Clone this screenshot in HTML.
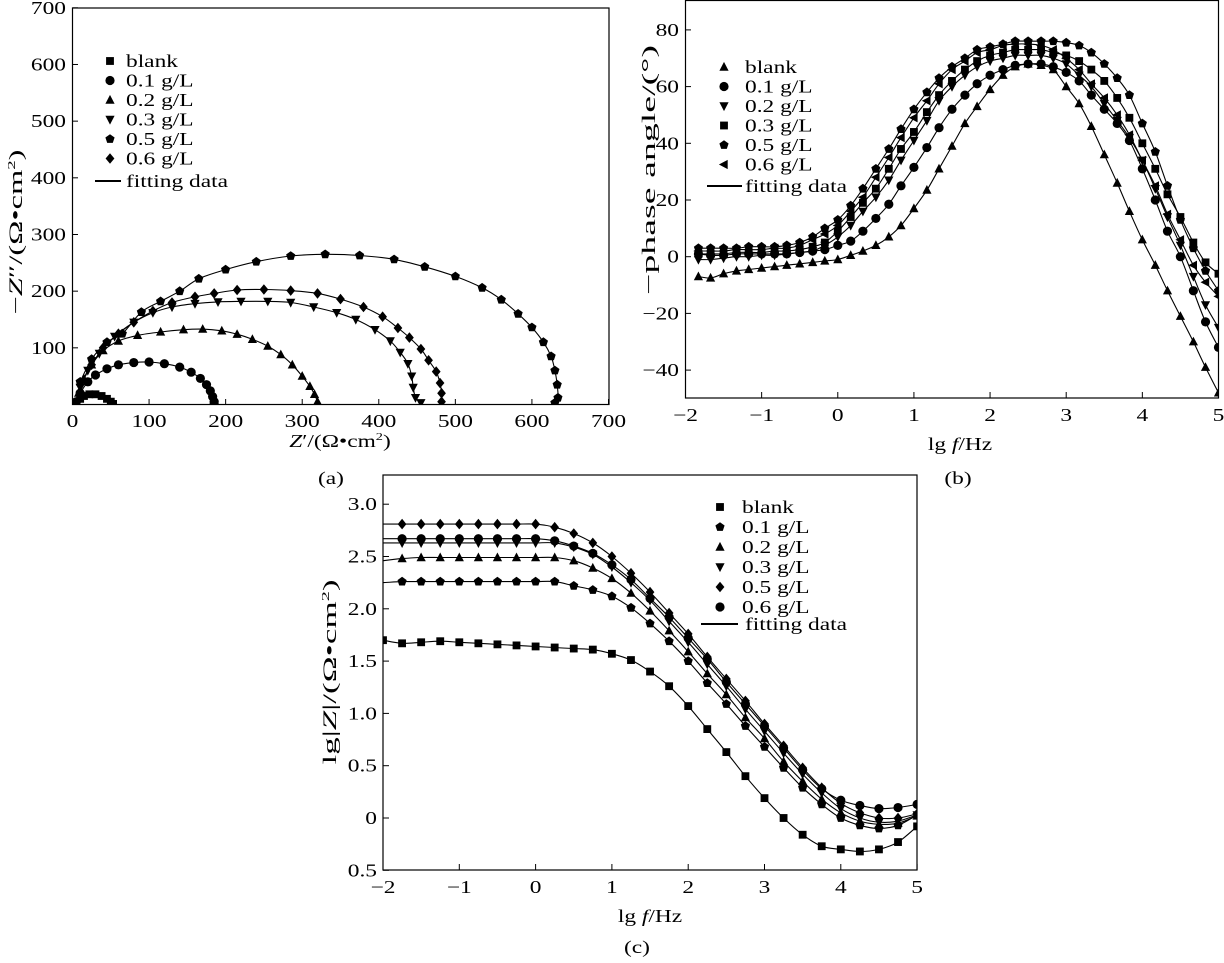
<!DOCTYPE html>
<html><head><meta charset="utf-8"><style>
html,body{margin:0;padding:0;background:#fff}
svg{display:block}
text{font-family:"Liberation Serif",serif;fill:#000}
</style></head><body>
<svg id="fig" width="1224" height="963" viewBox="0 0 1224 963" xmlns="http://www.w3.org/2000/svg"></svg>
<script>
// ---------- Panel (a) Nyquist data ----------
const nyqLabels = ["blank","0.1 g/L","0.2 g/L","0.3 g/L","0.5 g/L","0.6 g/L"];
const nyqBlank = [[5,3],[10,10],[15,15],[22,18],[30,18],[38,15],[45,10],[50,5],[53,1]];
const nyq01 = [[5,5],[10,20],[20,40],[30,52],[45,63],[60,70],[80,74],[100,75],[120,72],[140,66],[155,57],[167,46],[175,35],[180,24],[183,14],[185,5],[185,1]];
const nyq02 = [[8,20],[15,45],[25,70],[40,95],[60,112],[85,122],[115,128],[145,132],[170,133],[195,130],[215,124],[235,115],[255,103],[272,88],[287,70],[300,50],[310,32],[316,18],[320,5]];
const nyq03 = [[10,30],[20,60],[35,90],[55,120],[80,145],[105,162],[130,172],[160,178],[190,181],[220,182],[255,182],[285,180],[315,172],[345,162],[370,150],[395,132],[415,112],[428,92],[438,72],[443,50],[445,30],[448,12],[455,3]];
const nyq05 = [[10,40],[25,80],[45,110],[65,125],[90,163],[115,182],[140,200],[165,222],[200,238],[240,252],[285,262],[330,265],[375,263],[420,256],[460,243],[500,226],[535,206],[560,185],[582,160],[600,136],[615,110],[625,85],[630,60],[633,35],[634,12],[630,3]];
const nyq06 = [[10,35],[25,70],[40,100],[60,125],[80,145],[105,165],[130,180],[160,190],[185,196],[215,202],[250,203],[285,201],[320,196],[350,186],[380,172],[405,155],[425,135],[440,118],[455,98],[465,78],[475,58],[480,38],[482,20],[482,5]];
const nyqTicks = [0,100,200,300,400,500,600,700];

// ---------- Panel (b) phase data ----------
const phaseX = [-1.83,-1.67,-1.5,-1.33,-1.17,-1,-0.83,-0.67,-0.5,-0.33,-0.17,0,0.17,0.33,0.5,0.67,0.83,1,1.17,1.33,1.5,1.67,1.83,2,2.17,2.33,2.5,2.67,2.83,3,3.17,3.33,3.5,3.67,3.83,4,4.17,4.33,4.5,4.67,4.83,5];
const phaseLabels = ["blank","0.1 g/L","0.2 g/L","0.3 g/L","0.5 g/L","0.6 g/L"];
const phBlank = [-7,-7.5,-6,-5,-4.5,-4,-3.5,-3,-2.5,-2,-1.5,-1,0.5,2,4,7,11,17,23.5,31,39,47,53,59,64,67,68,67.5,66,60,54,46,36,26,16,6,-3,-12,-21,-30,-39,-48];
const ph01 = [1,0.5,0.5,1,1,1,1,1,1.5,2,2.5,4,5.5,9,13.5,18.5,25,31.5,38.5,45.5,52,57,61,64,66,67.5,68,68,67,65,62,57,52,47,41,31,20,9,0,-12,-23,-32];
const ph02 = [-1,-1,-0.5,0,0,0.5,0.5,1,1.5,2,4,7,11,16,21,27,34,41,48,55,60,64,67,69,70,71,71,71,70,68,64,60,54,48,42,34,24,14,4,-7,-17,-25];
const ph03 = [1,1,1,1.5,1.5,1.5,2,2,2.5,3.5,5,9,14,19,24,31,38,44,51,57,62,66,69,71,72,73,73,73,72,71,69,66,62,56,49,40,31,22,14,5,-2,-6];
const ph05 = [3,3,3,3,3.5,3.5,3.5,4,5,7,10,13,18,24,31,38,45,52,58,63,67,70,73,74,75,76,76,76,76,75.5,74.5,72,68,63,57,47,37,25,13,3,-5,-12];
const ph06 = [2,2,2,2.5,2.5,2.5,3,3,4,6,8,11,16,21,28,35,42,49,55,61,66,69,72,73,74.5,75,75,74.5,73,70,66,61,56,50,43,34,25,15,6,-3,-9,-14];
const freqTicks = [-2,-1,0,1,2,3,4,5];
const phaseTicks = [80,60,40,20,0,-20,-40];

// ---------- Panel (c) |Z| data ----------
const bodeX = [-2,-1.75,-1.5,-1.25,-1,-0.75,-0.5,-0.25,0,0.25,0.5,0.75,1,1.25,1.5,1.75,2,2.25,2.5,2.75,3,3.25,3.5,3.75,4,4.25,4.5,4.75,5];
const bodeLabels = ["blank","0.1 g/L","0.2 g/L","0.3 g/L","0.5 g/L","0.6 g/L"];
const zBlank = [1.70,1.67,1.68,1.69,1.68,1.67,1.66,1.65,1.64,1.63,1.62,1.61,1.57,1.51,1.40,1.26,1.07,0.85,0.63,0.40,0.19,0.0,-0.16,-0.27,-0.30,-0.32,-0.30,-0.23,-0.08];
const z01 = [2.25,2.26,2.26,2.26,2.26,2.26,2.26,2.26,2.26,2.26,2.22,2.18,2.12,2.01,1.86,1.69,1.50,1.29,1.09,0.88,0.68,0.48,0.29,0.13,0.0,-0.07,-0.10,-0.07,0.03];
const z02 = [2.46,2.48,2.49,2.49,2.49,2.49,2.49,2.49,2.49,2.49,2.46,2.39,2.29,2.15,1.98,1.79,1.59,1.38,1.18,0.96,0.76,0.54,0.35,0.18,0.05,-0.03,-0.06,-0.05,0.02];
const z03 = [2.63,2.63,2.63,2.63,2.63,2.63,2.63,2.63,2.63,2.63,2.59,2.52,2.40,2.25,2.08,1.88,1.68,1.47,1.26,1.04,0.83,0.62,0.42,0.24,0.09,0.0,-0.04,-0.03,0.03];
const z05 = [2.81,2.81,2.81,2.81,2.81,2.81,2.81,2.81,2.81,2.78,2.72,2.63,2.50,2.34,2.16,1.96,1.76,1.54,1.33,1.12,0.90,0.69,0.48,0.29,0.14,0.05,0.0,0.0,0.04];
const z06 = [2.67,2.67,2.67,2.67,2.67,2.67,2.67,2.67,2.67,2.65,2.60,2.53,2.42,2.28,2.10,1.92,1.72,1.52,1.30,1.09,0.88,0.67,0.46,0.28,0.17,0.12,0.09,0.10,0.13];
const zTicks = [3.0,2.5,2.0,1.5,1.0,0.5,0,-0.5];
const zTickText = ["3.0","2.5","2.0","1.5","1.0","0.5","0","0.5"];

const FS = 18;
const SX = 1.3;
const NS = "http://www.w3.org/2000/svg";
const svg = document.getElementById("fig");
function mk(tag, attrs, parent){
  const e = document.createElementNS(NS, tag);
  for (const k in attrs) e.setAttribute(k, attrs[k]);
  (parent||svg).appendChild(e);
  return e;
}
function txt(s, x, y, size, anchor, parent){
  const t = mk("text", {x:0, y:0, transform:"translate("+x+","+y+") scale("+SX+",1)", "font-size":size, "text-anchor":anchor||"middle"}, parent);
  t.textContent = s;
  return t;
}
// rotated axis title with fixed length along the axis
function vtxt(html, x, y, len, parent){
  const t = mk("text", {x:0, y:0, transform:"translate("+x+","+y+") rotate(-90)", "font-size":19, "text-anchor":"middle", textLength:len, lengthAdjust:"spacingAndGlyphs"}, parent);
  t.innerHTML = html;
  return t;
}
function marker(kind, x, y, parent){
  const r = 4.6;
  let e;
  if (kind==="square") e = mk("rect",{x:x-r*0.85,y:y-r*0.85,width:r*1.7,height:r*1.7},parent);
  else if (kind==="circle") e = mk("circle",{cx:x,cy:y,r:r},parent);
  else {
    let pts;
    if (kind==="up") pts=[[0,-r*1.1],[r,r*0.8],[-r,r*0.8]];
    else if (kind==="down") pts=[[0,r*1.1],[r,-r*0.8],[-r,-r*0.8]];
    else if (kind==="left") pts=[[-r*1.1,0],[r*0.8,-r],[r*0.8,r]];
    else if (kind==="diamond") pts=[[0,-r*1.15],[r*0.95,0],[0,r*1.15],[-r*0.95,0]];
    else { pts=[]; for(let i=0;i<5;i++){const a=-Math.PI/2+i*2*Math.PI/5; pts.push([r*1.05*Math.cos(a),r*1.05*Math.sin(a)]);} }
    e = mk("polygon",{points:pts.map(p=>(x+p[0]).toFixed(1)+","+(y+p[1]).toFixed(1)).join(" ")},parent);
  }
  e.setAttribute("fill","#000");
  return e;
}
function smoothPath(pts){
  let d = "M"+pts[0][0].toFixed(1)+","+pts[0][1].toFixed(1);
  for (let i=0;i<pts.length-1;i++){
    const p0=pts[Math.max(0,i-1)], p1=pts[i], p2=pts[i+1], p3=pts[Math.min(pts.length-1,i+2)];
    const c1=[p1[0]+(p2[0]-p0[0])/6, p1[1]+(p2[1]-p0[1])/6];
    const c2=[p2[0]-(p3[0]-p1[0])/6, p2[1]-(p3[1]-p1[1])/6];
    d += " C"+c1[0].toFixed(1)+","+c1[1].toFixed(1)+" "+c2[0].toFixed(1)+","+c2[1].toFixed(1)+" "+p2[0].toFixed(1)+","+p2[1].toFixed(1);
  }
  return d;
}
const SUP = '<tspan dy="-7" font-size="11">2</tspan><tspan dy="7">)</tspan>';

// ===== Panel (a) =====
const aX = v => 72.5 + v*0.7657;
const aY = v => 404.5 - v*0.5667;
const ga = mk("g",{});


const aClip = mk("clipPath",{id:"clipA"},ga);
mk("rect",{x:72.5,y:8,width:536.5,height:396.5},aClip);
const aFrame = mk("rect",{x:72.5,y:8,width:536.5,height:396.5,fill:"none",stroke:"#000","stroke-width":1.2},ga);


nyqTicks.forEach(v=>{
  mk("line",{x1:aX(v),y1:404.5,x2:aX(v),y2:399,stroke:"#000"},ga);
  const t = txt(String(v), aX(v), 427, FS, "middle", ga);
  
  
  if (v>0){
    mk("line",{x1:72.5,y1:aY(v),x2:78,y2:aY(v),stroke:"#000"},ga);
    const ty = txt(String(v), 66, aY(v)+6, FS, "end", ga);
    
    
  }
});
const nyqSeries = [nyqBlank,nyq01,nyq02,nyq03,nyq05,nyq06];
const nyqKinds = ["square","circle","up","down","pentagon","diamond"];
nyqSeries.forEach((s,k)=>{
  const g = mk("g",{"clip-path":"url(#clipA)"},ga);
  
  
  const pts = s.map(p=>[aX(p[0]),aY(p[1])]);
  mk("path",{d:smoothPath(pts),fill:"none",stroke:"#000","stroke-width":1.1},g);
  pts.forEach(p=>marker(nyqKinds[k],p[0],p[1],g));
});
const legA = mk("g",{},ga);


nyqLabels.forEach((l,i)=>{
  const y = 61 + i*19.5;
  marker(nyqKinds[i],110,y,legA);
  const t = txt(l,126,y+6,FS,"start",legA);
  
  
});
mk("line",{x1:95,y1:181,x2:121,y2:181,stroke:"#000","stroke-width":2},legA);
txt("fitting data",126,187,FS,"start",legA);
const axa = txt("",340,447,FS,"middle",ga);
axa.innerHTML = '<tspan font-style="italic">Z</tspan>′/(Ω•cm'+SUP;


const aya = vtxt('−<tspan font-style="italic">Z</tspan>″/(Ω•cm'+SUP, 22, 232, 165, ga);


const capA = txt("(a)",331,484,FS,"middle",ga);



// ===== Panel (b) =====
const bX = v => 685.5 + (v+2)*76.14;
const bY = v => 256.7 - v*2.835;
const gb = mk("g",{});


const bClip = mk("clipPath",{id:"clipB"},gb);
mk("rect",{x:685.5,y:0,width:533,height:398},bClip);
const bFrame = mk("rect",{x:685.5,y:0.5,width:533,height:397.5,fill:"none",stroke:"#000","stroke-width":1.2},gb);


freqTicks.forEach(v=>{
  mk("line",{x1:bX(v),y1:398,x2:bX(v),y2:392,stroke:"#000"},gb);
  const t = txt(v<0?"−"+(-v):String(v), bX(v), 421, FS, "middle", gb);
  
  
});
phaseTicks.forEach(v=>{
  mk("line",{x1:685.5,y1:bY(v),x2:691,y2:bY(v),stroke:"#000"},gb);
  const t = txt(v<0?"−"+(-v):String(v), 679, bY(v)+6, FS, "end", gb);
  
  
});
const phSeries = [phBlank,ph01,ph02,ph03,ph05,ph06];
const phKinds = ["up","circle","down","square","pentagon","left"];
phSeries.forEach((s,k)=>{
  const g = mk("g",{"clip-path":"url(#clipB)"},gb);
  
  
  const pts = s.map((v,i)=>[bX(phaseX[i]),bY(v)]);
  mk("path",{d:smoothPath(pts),fill:"none",stroke:"#000","stroke-width":1.1},g);
  pts.forEach(p=>marker(phKinds[k],p[0],p[1],g));
});
const legB = mk("g",{},gb);


phaseLabels.forEach((l,i)=>{
  const y = 67 + i*19.5;
  marker(phKinds[i],724,y,legB);
  const t = txt(l,745,y+6,FS,"start",legB);
  
  
});
mk("line",{x1:707,y1:186,x2:742,y2:186,stroke:"#000","stroke-width":2},legB);
txt("fitting data",745,192,FS,"start",legB);
const axb = txt("",960,450,FS,"middle",gb);
axb.innerHTML = 'lg <tspan font-style="italic">f</tspan>/Hz';


const ayb = vtxt("−phase angle/(°)", 655, 170, 250, gb);


const capB = txt("(b)",958,484,FS,"middle",gb);



// ===== Panel (c) =====
const cX = v => 383 + (v+2)*76.3;
const cY = v => 818 - v*104.6;
const gc = mk("g",{});


const cClip = mk("clipPath",{id:"clipC"},gc);
mk("rect",{x:383,y:475,width:534,height:395},cClip);
const cFrame = mk("rect",{x:383,y:475,width:534,height:395,fill:"none",stroke:"#000","stroke-width":1.2},gc);


freqTicks.forEach(v=>{
  mk("line",{x1:cX(v),y1:870,x2:cX(v),y2:864,stroke:"#000"},gc);
  const t = txt(v<0?"−"+(-v):String(v), cX(v), 893, FS, "middle", gc);
  
  
});
zTicks.forEach((v,i)=>{
  mk("line",{x1:383,y1:cY(v),x2:389,y2:cY(v),stroke:"#000"},gc);
  const t = txt(zTickText[i], 377, cY(v)+6, FS, "end", gc);
  
  
});
const zSeries = [zBlank,z01,z02,z03,z05,z06];
const zKinds = ["square","pentagon","up","down","diamond","circle"];
zSeries.forEach((s,k)=>{
  const g = mk("g",{"clip-path":"url(#clipC)"},gc);
  
  
  const pts = s.map((v,i)=>[cX(bodeX[i]),cY(v)]);
  mk("path",{d:smoothPath(pts),fill:"none",stroke:"#000","stroke-width":1.1},g);
  pts.forEach((p,i)=>{ if (i>0 || k===0) marker(zKinds[k],p[0],p[1],g); });
});
const legC = mk("g",{},gc);


bodeLabels.forEach((l,i)=>{
  const y = 507 + i*20;
  marker(zKinds[i],720,y,legC);
  const t = txt(l,742,y+6,FS,"start",legC);
  
  
});
mk("line",{x1:701,y1:624,x2:738,y2:624,stroke:"#000","stroke-width":2},legC);
txt("fitting data",745,630,FS,"start",legC);
const axc = txt("",650,922,FS,"middle",gc);
axc.innerHTML = 'lg <tspan font-style="italic">f</tspan>/Hz';


const ayc = vtxt('lg|<tspan font-style="italic">Z</tspan>|/(Ω•cm'+SUP, 336, 672, 185, gc);


const capC = txt("(c)",637,953,FS,"middle",gc);


</script>
</body></html>
